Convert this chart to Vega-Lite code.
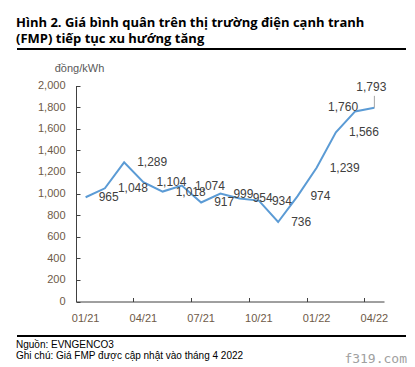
{
  "$schema": "https://vega.github.io/schema/vega-lite/v6.json",
  "padding": {"left": 16, "right": 10, "top": 16, "bottom": 2},
  "background": "white",
  "title": {"text": "f319.com", "orient": "bottom", "anchor": "end", "font": "DejaVu Sans Mono", "fontSize": 13, "fontWeight": "normal", "color": "#a0a0a0", "offset": -8.5},
  "spacing": 33,
  "bounds": "flush",
  "vconcat": [
    {
      "width": 389,
      "height": 2,
      "view": {"stroke": null},
      "title": {"text": ["Hình 2. Giá bình quân trên thị trường điện cạnh tranh", "(FMP) tiếp tục xu hướng tăng"], "anchor": "start", "font": "Open Sans", "fontSize": 13, "fontWeight": "bold", "color": "black", "lineHeight": 16, "offset": 2.5},
      "data": {"values": [{"t": ""}]},
      "mark": {"type": "rule", "color": "black", "strokeWidth": 2},
      "encoding": {"y": {"datum": 0.5, "type": "quantitative", "scale": {"domain": [0, 1]}, "axis": null}}
    },
    {
      "width": 389,
      "height": 218.5,
      "view": {"stroke": null},
      "data": {"values": [
        {"month": "01/21", "value": 965},
        {"month": "02/21", "value": 1048},
        {"month": "03/21", "value": 1289},
        {"month": "04/21", "value": 1104},
        {"month": "05/21", "value": 1018},
        {"month": "06/21", "value": 1074},
        {"month": "07/21", "value": 917},
        {"month": "08/21", "value": 999},
        {"month": "09/21", "value": 954},
        {"month": "10/21", "value": 934},
        {"month": "11/21", "value": 736},
        {"month": "12/21", "value": 974},
        {"month": "01/22", "value": 1239},
        {"month": "02/22", "value": 1566},
        {"month": "03/22", "value": 1760},
        {"month": "04/22", "value": 1793}
      ]},
      "encoding": {
        "x": {"field": "month", "type": "ordinal", "sort": null, "bandPosition": 0.5,
              "scale": {"type": "band", "range": [59, 367], "paddingInner": 0, "paddingOuter": 0},
              "axis": {"title": null, "values": ["01/21", "04/21", "07/21", "10/21", "01/22", "04/22"], "bandPosition": 0, "labelAngle": 0, "tickSize": -4, "labelPadding": 15}},
        "y": {"field": "value", "type": "quantitative", "scale": {"domain": [0, 2000], "range": [218.5, 2.5]},
              "axis": {"title": "đồng/kWh", "offset": -59, "values": [0, 200, 400, 600, 800, 1000, 1200, 1400, 1600, 1800, 2000], "format": ",.0f", "tickSize": -4, "labelPadding": 15, "titleAngle": 0, "titleX": 3, "titleY": -11.5, "titleAlign": "center", "titleBaseline": "alphabetic", "titleFont": "Liberation Sans", "titleFontSize": 11, "titleFontWeight": "normal", "titleColor": "#595959"}}
      },
      "layer": [
        {"mark": {"type": "line", "color": "#5B9BD5", "strokeWidth": 2}},
        {"transform": [{"filter": "datum.month != '03/22' && datum.month != '04/22'"}],
         "mark": {"type": "text", "align": "left", "baseline": "middle", "dx": 13, "font": "Liberation Sans", "fontSize": 12, "color": "#404040"},
         "encoding": {"text": {"field": "value", "format": ","}}},
        {"transform": [{"filter": "datum.month == '03/22'"}],
         "mark": {"type": "text", "align": "center", "baseline": "middle", "dx": -12, "dy": -4, "font": "Liberation Sans", "fontSize": 12, "color": "#404040"},
         "encoding": {"text": {"field": "value", "format": ","}}},
        {"transform": [{"filter": "datum.month == '04/22'"}],
         "mark": {"type": "text", "align": "center", "baseline": "middle", "dx": -3, "dy": -21, "font": "Liberation Sans", "fontSize": 12, "color": "#404040"},
         "encoding": {"text": {"field": "value", "format": ","}}},
        {"transform": [{"filter": "datum.month == '04/22'"}],
         "mark": {"type": "rule", "color": "#a6a6a6", "strokeWidth": 1, "y2Offset": -12},
         "encoding": {"y2": {"field": "value"}}}
      ]
    },
    {
      "width": 389,
      "height": 2,
      "view": {"stroke": null},
      "title": {"text": ["Nguồn: EVNGENCO3", "Ghi chú: Giá FMP được cập nhật vào tháng 4 2022"], "orient": "bottom", "anchor": "start", "font": "Liberation Sans", "fontSize": 10, "fontWeight": "normal", "color": "black", "lineHeight": 11.5, "offset": 2.5},
      "data": {"values": [{"t": ""}]},
      "mark": {"type": "rule", "color": "black", "strokeWidth": 2},
      "encoding": {"y": {"datum": 0.5, "type": "quantitative", "scale": {"domain": [0, 1]}, "axis": null}}
    }
  ],
  "config": {
    "axis": {"grid": false, "domainColor": "#404040", "tickColor": "#404040", "labelFont": "Liberation Sans", "labelFontSize": 11, "labelColor": "#6e5a48", "domainWidth": 1, "tickWidth": 1}
  }
}
